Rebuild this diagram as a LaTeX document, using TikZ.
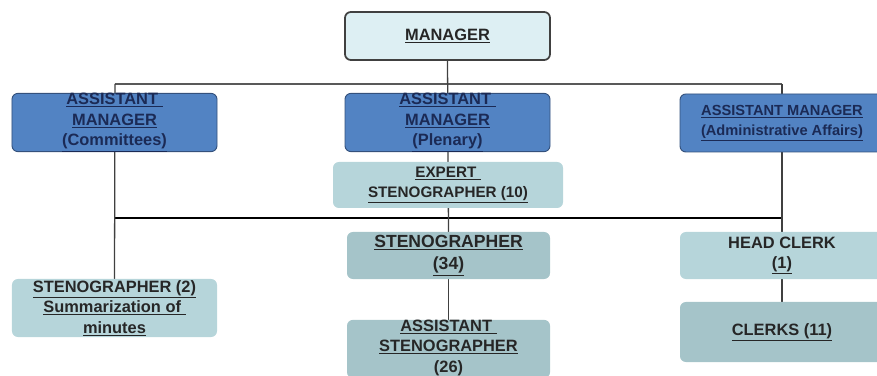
\documentclass[tikz,border=0pt]{standalone}
\usepackage{fontspec}
\setmainfont{Liberation Sans}
\usepackage{xcolor}
\usetikzlibrary{backgrounds}

\definecolor{mgrfill}{HTML}{DDEFF3}
\definecolor{bluefill}{HTML}{5283C3}
\definecolor{bluedraw}{HTML}{34517C}
\definecolor{navytext}{HTML}{1B2A55}
\definecolor{teallight}{HTML}{B6D5DA}
\definecolor{tealdark}{HTML}{A5C4C9}

\tikzset{
  box/.style={rounded corners=5pt,align=center,inner sep=0pt,
    font=\bfseries\fontsize{14}{17.5}\selectfont,text=black!85},
  topbox/.style={box,draw=black!75,line width=1.5pt,fill=mgrfill},
  bluebox/.style={box,draw=bluedraw,line width=0.8pt,fill=bluefill,text=navytext},
  lightbox/.style={box,fill=teallight},
  darkbox/.style={box,fill=tealdark},
  bus/.style={black!65,line width=1.3pt},
  busdark/.style={black,line width=2pt},
  link/.style={black!75,line width=1.1pt}
}

\begin{document}
\begin{tikzpicture}[x=0.03cm,y=-0.03cm]
    \useasboundingbox (0,0) rectangle (877,376);

    \node[topbox,minimum width=6.15cm,minimum height=1.44cm] (mgr) at (447.5,36)
      {\underline{MANAGER}};

    \node[bluebox,minimum width=6.15cm,minimum height=1.71cm] (comm) at (114.5,122.5)
      {\underline{ASSISTANT\ }\\\underline{MANAGER}\\\underline{(Committees)}};
    \node[bluebox,minimum width=6.15cm,minimum height=1.71cm] (plen) at (447.5,122.5)
      {\underline{ASSISTANT\ }\\\underline{MANAGER}\\\underline{(Plenary)}};
    \node[bluebox,minimum width=6.12cm,minimum height=1.74cm,
      font=\bfseries\fontsize{12.5}{17}\selectfont] (admin) at (782,123)
      {\underline{ASSISTANT MANAGER}\\\underline{(Administrative Affairs)}};

    \node[lightbox,minimum width=6.9cm,minimum height=1.38cm,
      font=\bfseries\fontsize{13}{17}\selectfont] (expert) at (448,185)
      {\underline{EXPERT\ }\\\underline{STENOGRAPHER (10)}};

    \node[lightbox,minimum width=6.15cm,minimum height=1.74cm] (summ) at (114.5,308)
      {\underline{STENOGRAPHER (2)}\\\underline{Summarization of\ }\\\underline{minutes}};
    \node[darkbox,minimum width=6.09cm,minimum height=1.41cm,
      font=\bfseries\fontsize{15}{18.5}\selectfont] (steno) at (448.5,255.5)
      {\underline{STENOGRAPHER}\\\underline{(34)}};
    \node[darkbox,minimum width=6.09cm,minimum height=1.74cm] (asst) at (448.5,349)
      {\underline{ASSISTANT\ }\\\underline{STENOGRAPHER}\\\underline{(26)}};
    \node[lightbox,minimum width=6.12cm,minimum height=1.41cm] (head) at (782,255.5)
      {HEAD CLERK\\\underline{(1)}};
    \node[darkbox,minimum width=6.12cm,minimum height=1.8cm] (clerks) at (782,332)
      {\underline{CLERKS (11)}};

    \coordinate (busTL) at (115,84);
    \coordinate (busTR) at (782,84);
    \coordinate (busBL) at (115,218);
    \coordinate (busBR) at (782,218);

    \begin{pgfonlayer}{background}
      \draw[bus] (busTL) -- (busTR);
      \draw[busdark] (busBL) -- (busBR);
      \draw[link] (mgr.south) -- (steno.north);
      \draw[link] (busTL) -- (summ.north);
      \draw[link] (busTR) -- (head.north);
      \draw[link] (steno.south) -- (asst.north);
      \draw[link] (head.south) -- (clerks.north);
    \end{pgfonlayer}
  \end{tikzpicture}
\end{document}
